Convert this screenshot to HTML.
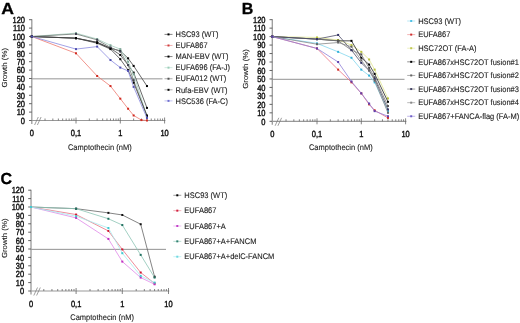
<!DOCTYPE html>
<html><head><meta charset="utf-8"><style>
html,body{margin:0;padding:0;background:#fff;overflow:hidden;}
svg{display:block;filter:blur(0.3px);}
text{text-rendering:geometricPrecision;font-family:"Liberation Sans", sans-serif;font-size:7.5px;fill:#1a1a1a;stroke:#1a1a1a;stroke-width:0.1px;}
.n{stroke-width:0.35px;fill:#111;stroke:#111;}
</style></head><body>
<svg width="520" height="323" viewBox="0 0 520 323">
<rect width="520" height="323" fill="#fff"/>
<line x1="31.8" y1="78.85" x2="162.5" y2="78.85" stroke="#b8b8b8" stroke-width="1.5"/>
<line x1="31.8" y1="19.20" x2="31.8" y2="124.00" stroke="#9a9a9a" stroke-width="1.3"/>
<line x1="29.0" y1="120.50" x2="31.8" y2="120.50" stroke="#555" stroke-width="0.9"/>
<text transform="translate(25.00,123.75) scale(1,1.18)" class="n" text-anchor="end">0</text>
<line x1="29.0" y1="112.10" x2="31.8" y2="112.10" stroke="#555" stroke-width="0.9"/>
<text transform="translate(25.00,115.35) scale(1,1.18)" class="n" text-anchor="end">10</text>
<line x1="29.0" y1="103.70" x2="31.8" y2="103.70" stroke="#555" stroke-width="0.9"/>
<text transform="translate(25.00,106.95) scale(1,1.18)" class="n" text-anchor="end">20</text>
<line x1="29.0" y1="95.30" x2="31.8" y2="95.30" stroke="#555" stroke-width="0.9"/>
<text transform="translate(25.00,98.55) scale(1,1.18)" class="n" text-anchor="end">30</text>
<line x1="29.0" y1="86.90" x2="31.8" y2="86.90" stroke="#555" stroke-width="0.9"/>
<text transform="translate(25.00,90.15) scale(1,1.18)" class="n" text-anchor="end">40</text>
<line x1="29.0" y1="78.50" x2="31.8" y2="78.50" stroke="#555" stroke-width="0.9"/>
<text transform="translate(25.00,81.75) scale(1,1.18)" class="n" text-anchor="end">50</text>
<line x1="29.0" y1="70.10" x2="31.8" y2="70.10" stroke="#555" stroke-width="0.9"/>
<text transform="translate(25.00,73.35) scale(1,1.18)" class="n" text-anchor="end">60</text>
<line x1="29.0" y1="61.70" x2="31.8" y2="61.70" stroke="#555" stroke-width="0.9"/>
<text transform="translate(25.00,64.95) scale(1,1.18)" class="n" text-anchor="end">70</text>
<line x1="29.0" y1="53.30" x2="31.8" y2="53.30" stroke="#555" stroke-width="0.9"/>
<text transform="translate(25.00,56.55) scale(1,1.18)" class="n" text-anchor="end">80</text>
<line x1="29.0" y1="44.90" x2="31.8" y2="44.90" stroke="#555" stroke-width="0.9"/>
<text transform="translate(25.00,48.15) scale(1,1.18)" class="n" text-anchor="end">90</text>
<line x1="29.0" y1="36.50" x2="31.8" y2="36.50" stroke="#555" stroke-width="0.9"/>
<text transform="translate(25.00,39.75) scale(1,1.18)" class="n" text-anchor="end">100</text>
<line x1="29.0" y1="28.10" x2="31.8" y2="28.10" stroke="#555" stroke-width="0.9"/>
<text transform="translate(25.00,31.35) scale(1,1.18)" class="n" text-anchor="end">110</text>
<line x1="29.0" y1="19.70" x2="31.8" y2="19.70" stroke="#555" stroke-width="0.9"/>
<text transform="translate(25.00,22.95) scale(1,1.18)" class="n" text-anchor="end">120</text>
<line x1="31.8" y1="120.5" x2="165.40" y2="120.5" stroke="#999" stroke-width="1.2"/>
<line x1="45.04" y1="118.5" x2="45.04" y2="120.5" stroke="#666" stroke-width="0.8"/>
<line x1="52.84" y1="118.5" x2="52.84" y2="120.5" stroke="#666" stroke-width="0.8"/>
<line x1="58.37" y1="118.5" x2="58.37" y2="120.5" stroke="#666" stroke-width="0.8"/>
<line x1="62.66" y1="118.5" x2="62.66" y2="120.5" stroke="#666" stroke-width="0.8"/>
<line x1="66.17" y1="118.5" x2="66.17" y2="120.5" stroke="#666" stroke-width="0.8"/>
<line x1="69.14" y1="118.5" x2="69.14" y2="120.5" stroke="#666" stroke-width="0.8"/>
<line x1="71.71" y1="118.5" x2="71.71" y2="120.5" stroke="#666" stroke-width="0.8"/>
<line x1="73.97" y1="118.5" x2="73.97" y2="120.5" stroke="#666" stroke-width="0.8"/>
<line x1="89.34" y1="118.5" x2="89.34" y2="120.5" stroke="#666" stroke-width="0.8"/>
<line x1="97.14" y1="118.5" x2="97.14" y2="120.5" stroke="#666" stroke-width="0.8"/>
<line x1="102.67" y1="118.5" x2="102.67" y2="120.5" stroke="#666" stroke-width="0.8"/>
<line x1="106.96" y1="118.5" x2="106.96" y2="120.5" stroke="#666" stroke-width="0.8"/>
<line x1="110.47" y1="118.5" x2="110.47" y2="120.5" stroke="#666" stroke-width="0.8"/>
<line x1="113.44" y1="118.5" x2="113.44" y2="120.5" stroke="#666" stroke-width="0.8"/>
<line x1="116.01" y1="118.5" x2="116.01" y2="120.5" stroke="#666" stroke-width="0.8"/>
<line x1="118.27" y1="118.5" x2="118.27" y2="120.5" stroke="#666" stroke-width="0.8"/>
<line x1="133.64" y1="118.5" x2="133.64" y2="120.5" stroke="#666" stroke-width="0.8"/>
<line x1="141.44" y1="118.5" x2="141.44" y2="120.5" stroke="#666" stroke-width="0.8"/>
<line x1="146.97" y1="118.5" x2="146.97" y2="120.5" stroke="#666" stroke-width="0.8"/>
<line x1="151.26" y1="118.5" x2="151.26" y2="120.5" stroke="#666" stroke-width="0.8"/>
<line x1="154.77" y1="118.5" x2="154.77" y2="120.5" stroke="#666" stroke-width="0.8"/>
<line x1="157.74" y1="118.5" x2="157.74" y2="120.5" stroke="#666" stroke-width="0.8"/>
<line x1="160.31" y1="118.5" x2="160.31" y2="120.5" stroke="#666" stroke-width="0.8"/>
<line x1="162.57" y1="118.5" x2="162.57" y2="120.5" stroke="#666" stroke-width="0.8"/>
<line x1="76.00" y1="117.5" x2="76.00" y2="123.5" stroke="#666" stroke-width="0.8"/>
<line x1="120.30" y1="117.5" x2="120.30" y2="123.5" stroke="#666" stroke-width="0.8"/>
<line x1="164.60" y1="117.5" x2="164.60" y2="123.5" stroke="#666" stroke-width="0.8"/>
<line x1="34.6" y1="125.0" x2="38.3" y2="117.0" stroke="#777" stroke-width="0.7"/>
<line x1="37.4" y1="125.0" x2="41.1" y2="117.0" stroke="#777" stroke-width="0.7"/>
<text transform="translate(31.80,136.00) scale(1,1.18)" class="n" text-anchor="middle">0</text>
<text transform="translate(76.00,136.00) scale(1,1.18)" class="n" text-anchor="middle">0,1</text>
<text transform="translate(120.30,136.00) scale(1,1.18)" class="n" text-anchor="middle">1</text>
<text transform="translate(164.60,136.00) scale(1,1.18)" class="n" text-anchor="middle">10</text>
<text transform="translate(99.80,149.50) scale(1,1.08)" text-anchor="middle">Camptothecin (nM)</text>
<text transform="translate(7.30,67.80) rotate(-90) scale(1.045,0.97)" text-anchor="middle">Growth (%)</text>
<polyline points="31.80,36.50 76.00,38.18 97.14,42.38 110.47,48.26 120.30,50.78 128.10,58.34 133.64,65.90 146.97,86.06" fill="none" stroke="#444" stroke-width="0.8"/>
<rect x="30.80" y="35.50" width="2" height="2" fill="#000"/>
<rect x="75.00" y="37.18" width="2" height="2" fill="#000"/>
<rect x="96.14" y="41.38" width="2" height="2" fill="#000"/>
<rect x="109.47" y="47.26" width="2" height="2" fill="#000"/>
<rect x="119.30" y="49.78" width="2" height="2" fill="#000"/>
<rect x="127.10" y="57.34" width="2" height="2" fill="#000"/>
<rect x="132.64" y="64.90" width="2" height="2" fill="#000"/>
<rect x="145.97" y="85.06" width="2" height="2" fill="#000"/>
<polyline points="31.80,36.50 76.00,53.30 97.14,75.98 110.47,86.06 120.30,98.66 128.10,108.74 133.64,115.46 141.44,120.08 146.97,120.50" fill="none" stroke="#ee7a70" stroke-width="0.8"/>
<rect x="30.80" y="35.50" width="2" height="2" fill="#d02a20"/>
<rect x="75.00" y="52.30" width="2" height="2" fill="#d02a20"/>
<rect x="96.14" y="74.98" width="2" height="2" fill="#d02a20"/>
<rect x="109.47" y="85.06" width="2" height="2" fill="#d02a20"/>
<rect x="119.30" y="97.66" width="2" height="2" fill="#d02a20"/>
<rect x="127.10" y="107.74" width="2" height="2" fill="#d02a20"/>
<rect x="132.64" y="114.46" width="2" height="2" fill="#d02a20"/>
<rect x="140.44" y="119.08" width="2" height="2" fill="#d02a20"/>
<rect x="145.97" y="119.50" width="2" height="2" fill="#d02a20"/>
<polyline points="31.80,36.50 76.00,38.18 97.14,42.38 110.47,48.26 120.30,54.98 128.10,65.06 133.64,72.62 146.97,107.90" fill="none" stroke="#444" stroke-width="0.8"/>
<rect x="30.80" y="35.50" width="2" height="2" fill="#000"/>
<rect x="75.00" y="37.18" width="2" height="2" fill="#000"/>
<rect x="96.14" y="41.38" width="2" height="2" fill="#000"/>
<rect x="109.47" y="47.26" width="2" height="2" fill="#000"/>
<rect x="119.30" y="53.98" width="2" height="2" fill="#000"/>
<rect x="127.10" y="64.06" width="2" height="2" fill="#000"/>
<rect x="132.64" y="71.62" width="2" height="2" fill="#000"/>
<rect x="145.97" y="106.90" width="2" height="2" fill="#000"/>
<polyline points="31.80,36.50 76.00,33.14 97.14,39.02 110.47,45.32 120.30,49.10 128.10,61.70 133.64,74.30 146.97,116.30" fill="none" stroke="#a8cfc0" stroke-width="0.8"/>
<rect x="30.80" y="35.50" width="2" height="2" fill="#7fa898"/>
<rect x="75.00" y="32.14" width="2" height="2" fill="#7fa898"/>
<rect x="96.14" y="38.02" width="2" height="2" fill="#7fa898"/>
<rect x="109.47" y="44.32" width="2" height="2" fill="#7fa898"/>
<rect x="119.30" y="48.10" width="2" height="2" fill="#7fa898"/>
<rect x="127.10" y="60.70" width="2" height="2" fill="#7fa898"/>
<rect x="132.64" y="73.30" width="2" height="2" fill="#7fa898"/>
<rect x="145.97" y="115.30" width="2" height="2" fill="#7fa898"/>
<polyline points="31.80,36.50 76.00,33.98 97.14,39.86 110.47,47.42 120.30,51.62 128.10,65.06 133.64,80.18 146.97,116.30" fill="none" stroke="#6f7a74" stroke-width="0.8"/>
<rect x="30.80" y="35.50" width="2" height="2" fill="#445"/>
<rect x="75.00" y="32.98" width="2" height="2" fill="#445"/>
<rect x="96.14" y="38.86" width="2" height="2" fill="#445"/>
<rect x="109.47" y="46.42" width="2" height="2" fill="#445"/>
<rect x="119.30" y="50.62" width="2" height="2" fill="#445"/>
<rect x="127.10" y="64.06" width="2" height="2" fill="#445"/>
<rect x="132.64" y="79.18" width="2" height="2" fill="#445"/>
<rect x="145.97" y="115.30" width="2" height="2" fill="#445"/>
<polyline points="31.80,36.50 76.00,38.18 97.14,43.22 110.47,49.10 120.30,59.18 128.10,70.10 133.64,82.70 146.97,115.46" fill="none" stroke="#444" stroke-width="0.8"/>
<rect x="30.80" y="35.50" width="2" height="2" fill="#000"/>
<rect x="75.00" y="37.18" width="2" height="2" fill="#000"/>
<rect x="96.14" y="42.22" width="2" height="2" fill="#000"/>
<rect x="109.47" y="48.10" width="2" height="2" fill="#000"/>
<rect x="119.30" y="58.18" width="2" height="2" fill="#000"/>
<rect x="127.10" y="69.10" width="2" height="2" fill="#000"/>
<rect x="132.64" y="81.70" width="2" height="2" fill="#000"/>
<rect x="145.97" y="114.46" width="2" height="2" fill="#000"/>
<polyline points="31.80,36.50 76.00,49.10 97.14,46.58 110.47,60.02 120.30,67.58 128.10,70.94 133.64,86.90 146.97,117.98" fill="none" stroke="#8a8ae0" stroke-width="0.8"/>
<rect x="30.80" y="35.50" width="2" height="2" fill="#5050b0"/>
<rect x="75.00" y="48.10" width="2" height="2" fill="#5050b0"/>
<rect x="96.14" y="45.58" width="2" height="2" fill="#5050b0"/>
<rect x="109.47" y="59.02" width="2" height="2" fill="#5050b0"/>
<rect x="119.30" y="66.58" width="2" height="2" fill="#5050b0"/>
<rect x="127.10" y="69.94" width="2" height="2" fill="#5050b0"/>
<rect x="132.64" y="85.90" width="2" height="2" fill="#5050b0"/>
<rect x="145.97" y="116.98" width="2" height="2" fill="#5050b0"/>
<line x1="164.5" y1="34.40" x2="172.5" y2="34.40" stroke="#666" stroke-width="0.8"/>
<rect x="167.5" y="33.40" width="2" height="2" fill="#000"/>
<text transform="translate(175.5,37.10) scale(1,1.08)">HSC93 (WT)</text>
<line x1="164.5" y1="45.48" x2="172.5" y2="45.48" stroke="#f0a0a0" stroke-width="0.8"/>
<rect x="167.5" y="44.48" width="2" height="2" fill="#d04040"/>
<text transform="translate(175.5,48.18) scale(1,1.08)">EUFA867</text>
<line x1="164.5" y1="56.56" x2="172.5" y2="56.56" stroke="#666" stroke-width="0.8"/>
<rect x="167.5" y="55.56" width="2" height="2" fill="#000"/>
<text transform="translate(175.5,59.26) scale(1,1.08)">MAN-EBV (WT)</text>
<line x1="164.5" y1="67.64" x2="172.5" y2="67.64" stroke="#c4e6d8" stroke-width="0.8"/>
<rect x="167.5" y="66.64" width="2" height="2" fill="#9cccb8"/>
<text transform="translate(175.5,70.34) scale(1,1.08)">EUFA696 (FA-J)</text>
<line x1="164.5" y1="78.72" x2="172.5" y2="78.72" stroke="#999" stroke-width="0.8"/>
<rect x="167.5" y="77.72" width="2" height="2" fill="#555"/>
<text transform="translate(175.5,81.42) scale(1,1.08)">EUFA012 (WT)</text>
<line x1="164.5" y1="89.80" x2="172.5" y2="89.80" stroke="#999" stroke-width="0.8"/>
<rect x="167.5" y="88.80" width="2" height="2" fill="#000"/>
<text transform="translate(175.5,92.50) scale(1,1.08)">Rufa-EBV (WT)</text>
<line x1="164.5" y1="100.88" x2="172.5" y2="100.88" stroke="#b4b4ee" stroke-width="0.8"/>
<rect x="167.5" y="99.88" width="2" height="2" fill="#7070d0"/>
<text transform="translate(175.5,103.58) scale(1,1.08)">HSC536 (FA-C)</text>
<text transform="translate(1.3,14) scale(1.1,1)" style="font-size:16px;font-weight:bold;fill:#000;stroke:#000;stroke-width:0.3px">A</text>
<line x1="272.3" y1="79.30" x2="404.5" y2="79.30" stroke="#8c8c8c" stroke-width="0.95"/>
<line x1="272.3" y1="19.16" x2="272.3" y2="124.80" stroke="#9a9a9a" stroke-width="1.3"/>
<line x1="269.5" y1="121.30" x2="272.3" y2="121.30" stroke="#555" stroke-width="0.9"/>
<text transform="translate(265.50,124.55) scale(1,1.18)" class="n" text-anchor="end">0</text>
<line x1="269.5" y1="112.83" x2="272.3" y2="112.83" stroke="#555" stroke-width="0.9"/>
<text transform="translate(265.50,116.08) scale(1,1.18)" class="n" text-anchor="end">10</text>
<line x1="269.5" y1="104.36" x2="272.3" y2="104.36" stroke="#555" stroke-width="0.9"/>
<text transform="translate(265.50,107.61) scale(1,1.18)" class="n" text-anchor="end">20</text>
<line x1="269.5" y1="95.89" x2="272.3" y2="95.89" stroke="#555" stroke-width="0.9"/>
<text transform="translate(265.50,99.14) scale(1,1.18)" class="n" text-anchor="end">30</text>
<line x1="269.5" y1="87.42" x2="272.3" y2="87.42" stroke="#555" stroke-width="0.9"/>
<text transform="translate(265.50,90.67) scale(1,1.18)" class="n" text-anchor="end">40</text>
<line x1="269.5" y1="78.95" x2="272.3" y2="78.95" stroke="#555" stroke-width="0.9"/>
<text transform="translate(265.50,82.20) scale(1,1.18)" class="n" text-anchor="end">50</text>
<line x1="269.5" y1="70.48" x2="272.3" y2="70.48" stroke="#555" stroke-width="0.9"/>
<text transform="translate(265.50,73.73) scale(1,1.18)" class="n" text-anchor="end">60</text>
<line x1="269.5" y1="62.01" x2="272.3" y2="62.01" stroke="#555" stroke-width="0.9"/>
<text transform="translate(265.50,65.26) scale(1,1.18)" class="n" text-anchor="end">70</text>
<line x1="269.5" y1="53.54" x2="272.3" y2="53.54" stroke="#555" stroke-width="0.9"/>
<text transform="translate(265.50,56.79) scale(1,1.18)" class="n" text-anchor="end">80</text>
<line x1="269.5" y1="45.07" x2="272.3" y2="45.07" stroke="#555" stroke-width="0.9"/>
<text transform="translate(265.50,48.32) scale(1,1.18)" class="n" text-anchor="end">90</text>
<line x1="269.5" y1="36.60" x2="272.3" y2="36.60" stroke="#555" stroke-width="0.9"/>
<text transform="translate(265.50,39.85) scale(1,1.18)" class="n" text-anchor="end">100</text>
<line x1="269.5" y1="28.13" x2="272.3" y2="28.13" stroke="#555" stroke-width="0.9"/>
<text transform="translate(265.50,31.38) scale(1,1.18)" class="n" text-anchor="end">110</text>
<line x1="269.5" y1="19.66" x2="272.3" y2="19.66" stroke="#555" stroke-width="0.9"/>
<text transform="translate(265.50,22.91) scale(1,1.18)" class="n" text-anchor="end">120</text>
<line x1="272.3" y1="121.3" x2="406.40" y2="121.3" stroke="#999" stroke-width="1.2"/>
<line x1="286.04" y1="119.3" x2="286.04" y2="121.3" stroke="#666" stroke-width="0.8"/>
<line x1="293.84" y1="119.3" x2="293.84" y2="121.3" stroke="#666" stroke-width="0.8"/>
<line x1="299.37" y1="119.3" x2="299.37" y2="121.3" stroke="#666" stroke-width="0.8"/>
<line x1="303.66" y1="119.3" x2="303.66" y2="121.3" stroke="#666" stroke-width="0.8"/>
<line x1="307.17" y1="119.3" x2="307.17" y2="121.3" stroke="#666" stroke-width="0.8"/>
<line x1="310.14" y1="119.3" x2="310.14" y2="121.3" stroke="#666" stroke-width="0.8"/>
<line x1="312.71" y1="119.3" x2="312.71" y2="121.3" stroke="#666" stroke-width="0.8"/>
<line x1="314.97" y1="119.3" x2="314.97" y2="121.3" stroke="#666" stroke-width="0.8"/>
<line x1="330.34" y1="119.3" x2="330.34" y2="121.3" stroke="#666" stroke-width="0.8"/>
<line x1="338.14" y1="119.3" x2="338.14" y2="121.3" stroke="#666" stroke-width="0.8"/>
<line x1="343.67" y1="119.3" x2="343.67" y2="121.3" stroke="#666" stroke-width="0.8"/>
<line x1="347.96" y1="119.3" x2="347.96" y2="121.3" stroke="#666" stroke-width="0.8"/>
<line x1="351.47" y1="119.3" x2="351.47" y2="121.3" stroke="#666" stroke-width="0.8"/>
<line x1="354.44" y1="119.3" x2="354.44" y2="121.3" stroke="#666" stroke-width="0.8"/>
<line x1="357.01" y1="119.3" x2="357.01" y2="121.3" stroke="#666" stroke-width="0.8"/>
<line x1="359.27" y1="119.3" x2="359.27" y2="121.3" stroke="#666" stroke-width="0.8"/>
<line x1="374.64" y1="119.3" x2="374.64" y2="121.3" stroke="#666" stroke-width="0.8"/>
<line x1="382.44" y1="119.3" x2="382.44" y2="121.3" stroke="#666" stroke-width="0.8"/>
<line x1="387.97" y1="119.3" x2="387.97" y2="121.3" stroke="#666" stroke-width="0.8"/>
<line x1="392.26" y1="119.3" x2="392.26" y2="121.3" stroke="#666" stroke-width="0.8"/>
<line x1="395.77" y1="119.3" x2="395.77" y2="121.3" stroke="#666" stroke-width="0.8"/>
<line x1="398.74" y1="119.3" x2="398.74" y2="121.3" stroke="#666" stroke-width="0.8"/>
<line x1="401.31" y1="119.3" x2="401.31" y2="121.3" stroke="#666" stroke-width="0.8"/>
<line x1="403.57" y1="119.3" x2="403.57" y2="121.3" stroke="#666" stroke-width="0.8"/>
<line x1="317.00" y1="118.3" x2="317.00" y2="124.3" stroke="#666" stroke-width="0.8"/>
<line x1="361.30" y1="118.3" x2="361.30" y2="124.3" stroke="#666" stroke-width="0.8"/>
<line x1="405.60" y1="118.3" x2="405.60" y2="124.3" stroke="#666" stroke-width="0.8"/>
<line x1="275.1" y1="125.8" x2="278.8" y2="117.8" stroke="#777" stroke-width="0.7"/>
<line x1="277.90000000000003" y1="125.8" x2="281.6" y2="117.8" stroke="#777" stroke-width="0.7"/>
<text transform="translate(272.30,136.80) scale(1,1.18)" class="n" text-anchor="middle">0</text>
<text transform="translate(317.00,136.80) scale(1,1.18)" class="n" text-anchor="middle">0,1</text>
<text transform="translate(361.30,136.80) scale(1,1.18)" class="n" text-anchor="middle">1</text>
<text transform="translate(405.60,136.80) scale(1,1.18)" class="n" text-anchor="middle">10</text>
<text transform="translate(340.80,150.30) scale(1,1.08)" text-anchor="middle">Camptothecin (nM)</text>
<text transform="translate(247.80,68.98) rotate(-90) scale(1.045,0.97)" text-anchor="middle">Growth (%)</text>
<polyline points="272.30,36.60 317.00,43.38 338.14,51.85 351.47,57.77 361.30,69.63 369.10,75.56 374.64,82.34 387.97,111.14" fill="none" stroke="#80d6ee" stroke-width="0.8"/>
<rect x="271.30" y="35.60" width="2" height="2" fill="#30b0d8"/>
<rect x="316.00" y="42.38" width="2" height="2" fill="#30b0d8"/>
<rect x="337.14" y="50.85" width="2" height="2" fill="#30b0d8"/>
<rect x="350.47" y="56.77" width="2" height="2" fill="#30b0d8"/>
<rect x="360.30" y="68.63" width="2" height="2" fill="#30b0d8"/>
<rect x="368.10" y="74.56" width="2" height="2" fill="#30b0d8"/>
<rect x="373.64" y="81.34" width="2" height="2" fill="#30b0d8"/>
<rect x="386.97" y="110.14" width="2" height="2" fill="#30b0d8"/>
<polyline points="272.30,36.60 317.00,48.46 338.14,69.63 351.47,82.34 361.30,93.35 369.10,104.36 374.64,110.29 387.97,117.91" fill="none" stroke="#ee7080" stroke-width="0.8"/>
<rect x="271.30" y="35.60" width="2" height="2" fill="#d02a20"/>
<rect x="316.00" y="47.46" width="2" height="2" fill="#d02a20"/>
<rect x="337.14" y="68.63" width="2" height="2" fill="#d02a20"/>
<rect x="350.47" y="81.34" width="2" height="2" fill="#d02a20"/>
<rect x="360.30" y="92.35" width="2" height="2" fill="#d02a20"/>
<rect x="368.10" y="103.36" width="2" height="2" fill="#d02a20"/>
<rect x="373.64" y="109.29" width="2" height="2" fill="#d02a20"/>
<rect x="386.97" y="116.91" width="2" height="2" fill="#d02a20"/>
<polyline points="272.30,36.60 317.00,37.45 338.14,39.99 351.47,45.07 361.30,51.85 369.10,59.47 374.64,69.63 387.97,98.43" fill="none" stroke="#e0e690" stroke-width="0.8"/>
<rect x="271.30" y="35.60" width="2" height="2" fill="#b8c040"/>
<rect x="316.00" y="36.45" width="2" height="2" fill="#b8c040"/>
<rect x="337.14" y="38.99" width="2" height="2" fill="#b8c040"/>
<rect x="350.47" y="44.07" width="2" height="2" fill="#b8c040"/>
<rect x="360.30" y="50.85" width="2" height="2" fill="#b8c040"/>
<rect x="368.10" y="58.47" width="2" height="2" fill="#b8c040"/>
<rect x="373.64" y="68.63" width="2" height="2" fill="#b8c040"/>
<rect x="386.97" y="97.43" width="2" height="2" fill="#b8c040"/>
<polyline points="272.30,36.60 317.00,39.14 338.14,40.83 351.47,40.83 361.30,57.77 369.10,64.55 374.64,73.87 387.97,101.82" fill="none" stroke="#222" stroke-width="0.8"/>
<rect x="271.30" y="35.60" width="2" height="2" fill="#000"/>
<rect x="316.00" y="38.14" width="2" height="2" fill="#000"/>
<rect x="337.14" y="39.83" width="2" height="2" fill="#000"/>
<rect x="350.47" y="39.83" width="2" height="2" fill="#000"/>
<rect x="360.30" y="56.77" width="2" height="2" fill="#000"/>
<rect x="368.10" y="63.55" width="2" height="2" fill="#000"/>
<rect x="373.64" y="72.87" width="2" height="2" fill="#000"/>
<rect x="386.97" y="100.82" width="2" height="2" fill="#000"/>
<polyline points="272.30,36.60 317.00,39.14 338.14,40.83 351.47,50.15 361.30,54.39 369.10,67.94 374.64,77.26 387.97,106.05" fill="none" stroke="#777" stroke-width="0.8"/>
<rect x="271.30" y="35.60" width="2" height="2" fill="#555"/>
<rect x="316.00" y="38.14" width="2" height="2" fill="#555"/>
<rect x="337.14" y="39.83" width="2" height="2" fill="#555"/>
<rect x="350.47" y="49.15" width="2" height="2" fill="#555"/>
<rect x="360.30" y="53.39" width="2" height="2" fill="#555"/>
<rect x="368.10" y="66.94" width="2" height="2" fill="#555"/>
<rect x="373.64" y="76.26" width="2" height="2" fill="#555"/>
<rect x="386.97" y="105.05" width="2" height="2" fill="#555"/>
<polyline points="272.30,36.60 317.00,39.14 338.14,34.91 351.47,50.15 361.30,62.86 369.10,70.48 374.64,78.95 387.97,109.44" fill="none" stroke="#4a4a66" stroke-width="0.8"/>
<rect x="271.30" y="35.60" width="2" height="2" fill="#336"/>
<rect x="316.00" y="38.14" width="2" height="2" fill="#336"/>
<rect x="337.14" y="33.91" width="2" height="2" fill="#336"/>
<rect x="350.47" y="49.15" width="2" height="2" fill="#336"/>
<rect x="360.30" y="61.86" width="2" height="2" fill="#336"/>
<rect x="368.10" y="69.48" width="2" height="2" fill="#336"/>
<rect x="373.64" y="77.95" width="2" height="2" fill="#336"/>
<rect x="386.97" y="108.44" width="2" height="2" fill="#336"/>
<polyline points="272.30,36.60 317.00,44.22 338.14,42.53 351.47,46.76 361.30,60.32 369.10,70.48 374.64,80.64 387.97,112.83" fill="none" stroke="#888" stroke-width="0.8"/>
<rect x="271.30" y="35.60" width="2" height="2" fill="#666"/>
<rect x="316.00" y="43.22" width="2" height="2" fill="#666"/>
<rect x="337.14" y="41.53" width="2" height="2" fill="#666"/>
<rect x="350.47" y="45.76" width="2" height="2" fill="#666"/>
<rect x="360.30" y="59.32" width="2" height="2" fill="#666"/>
<rect x="368.10" y="69.48" width="2" height="2" fill="#666"/>
<rect x="373.64" y="79.64" width="2" height="2" fill="#666"/>
<rect x="386.97" y="111.83" width="2" height="2" fill="#666"/>
<polyline points="272.30,36.60 317.00,48.46 338.14,62.01 351.47,81.49 361.30,93.35 369.10,103.51 374.64,111.14 387.97,116.22" fill="none" stroke="#9080d8" stroke-width="0.8"/>
<rect x="271.30" y="35.60" width="2" height="2" fill="#6040b0"/>
<rect x="316.00" y="47.46" width="2" height="2" fill="#6040b0"/>
<rect x="337.14" y="61.01" width="2" height="2" fill="#6040b0"/>
<rect x="350.47" y="80.49" width="2" height="2" fill="#6040b0"/>
<rect x="360.30" y="92.35" width="2" height="2" fill="#6040b0"/>
<rect x="368.10" y="102.51" width="2" height="2" fill="#6040b0"/>
<rect x="373.64" y="110.14" width="2" height="2" fill="#6040b0"/>
<rect x="386.97" y="115.22" width="2" height="2" fill="#6040b0"/>
<line x1="407.2" y1="21.00" x2="415.2" y2="21.00" stroke="#a8e2f4" stroke-width="0.8"/>
<rect x="410.2" y="20.00" width="2" height="2" fill="#50c0e4"/>
<text transform="translate(418.2,23.70) scale(1,1.08)">HSC93 (WT)</text>
<line x1="407.2" y1="34.61" x2="415.2" y2="34.61" stroke="#f0a0a0" stroke-width="0.8"/>
<rect x="410.2" y="33.61" width="2" height="2" fill="#d03030"/>
<text transform="translate(418.2,37.31) scale(1,1.08)">EUFA867</text>
<line x1="407.2" y1="48.22" x2="415.2" y2="48.22" stroke="#e8ecb0" stroke-width="0.8"/>
<rect x="410.2" y="47.22" width="2" height="2" fill="#c0c850"/>
<text transform="translate(418.2,50.92) scale(1,1.08)">HSC72OT (FA-A)</text>
<line x1="407.2" y1="61.83" x2="415.2" y2="61.83" stroke="#777" stroke-width="0.8"/>
<rect x="410.2" y="60.83" width="2" height="2" fill="#000"/>
<text transform="translate(418.2,64.53) scale(1,1.08)">EUFA867xHSC72OT fusion#1</text>
<line x1="407.2" y1="75.44" x2="415.2" y2="75.44" stroke="#999" stroke-width="0.8"/>
<rect x="410.2" y="74.44" width="2" height="2" fill="#666"/>
<text transform="translate(418.2,78.14) scale(1,1.08)">EUFA867xHSC72OT fusion#2</text>
<line x1="407.2" y1="89.05" x2="415.2" y2="89.05" stroke="#888" stroke-width="0.8"/>
<rect x="410.2" y="88.05" width="2" height="2" fill="#446"/>
<text transform="translate(418.2,91.75) scale(1,1.08)">EUFA867xHSC72OT fusion#3</text>
<line x1="407.2" y1="102.66" x2="415.2" y2="102.66" stroke="#aaa" stroke-width="0.8"/>
<rect x="410.2" y="101.66" width="2" height="2" fill="#888"/>
<text transform="translate(418.2,105.36) scale(1,1.08)">EUFA867xHSC72OT fusion#4</text>
<line x1="407.2" y1="116.27" x2="415.2" y2="116.27" stroke="#b0a4e4" stroke-width="0.8"/>
<rect x="410.2" y="115.27" width="2" height="2" fill="#7060c8"/>
<text transform="translate(418.2,118.97) scale(1,1.08)">EUFA867+FANCA-flag (FA-M)</text>
<text transform="translate(241.8,13.8) scale(1.0,1)" style="font-size:16px;font-weight:bold;fill:#000;stroke:#000;stroke-width:0.3px">B</text>
<line x1="31" y1="249.35" x2="166" y2="249.35" stroke="#8c8c8c" stroke-width="0.95"/>
<line x1="31" y1="189.70" x2="31" y2="294.50" stroke="#9a9a9a" stroke-width="1.3"/>
<line x1="28.2" y1="291.00" x2="31" y2="291.00" stroke="#555" stroke-width="0.9"/>
<text transform="translate(24.20,294.25) scale(1,1.18)" class="n" text-anchor="end">0</text>
<line x1="28.2" y1="282.60" x2="31" y2="282.60" stroke="#555" stroke-width="0.9"/>
<text transform="translate(24.20,285.85) scale(1,1.18)" class="n" text-anchor="end">10</text>
<line x1="28.2" y1="274.20" x2="31" y2="274.20" stroke="#555" stroke-width="0.9"/>
<text transform="translate(24.20,277.45) scale(1,1.18)" class="n" text-anchor="end">20</text>
<line x1="28.2" y1="265.80" x2="31" y2="265.80" stroke="#555" stroke-width="0.9"/>
<text transform="translate(24.20,269.05) scale(1,1.18)" class="n" text-anchor="end">30</text>
<line x1="28.2" y1="257.40" x2="31" y2="257.40" stroke="#555" stroke-width="0.9"/>
<text transform="translate(24.20,260.65) scale(1,1.18)" class="n" text-anchor="end">40</text>
<line x1="28.2" y1="249.00" x2="31" y2="249.00" stroke="#555" stroke-width="0.9"/>
<text transform="translate(24.20,252.25) scale(1,1.18)" class="n" text-anchor="end">50</text>
<line x1="28.2" y1="240.60" x2="31" y2="240.60" stroke="#555" stroke-width="0.9"/>
<text transform="translate(24.20,243.85) scale(1,1.18)" class="n" text-anchor="end">60</text>
<line x1="28.2" y1="232.20" x2="31" y2="232.20" stroke="#555" stroke-width="0.9"/>
<text transform="translate(24.20,235.45) scale(1,1.18)" class="n" text-anchor="end">70</text>
<line x1="28.2" y1="223.80" x2="31" y2="223.80" stroke="#555" stroke-width="0.9"/>
<text transform="translate(24.20,227.05) scale(1,1.18)" class="n" text-anchor="end">80</text>
<line x1="28.2" y1="215.40" x2="31" y2="215.40" stroke="#555" stroke-width="0.9"/>
<text transform="translate(24.20,218.65) scale(1,1.18)" class="n" text-anchor="end">90</text>
<line x1="28.2" y1="207.00" x2="31" y2="207.00" stroke="#555" stroke-width="0.9"/>
<text transform="translate(24.20,210.25) scale(1,1.18)" class="n" text-anchor="end">100</text>
<line x1="28.2" y1="198.60" x2="31" y2="198.60" stroke="#555" stroke-width="0.9"/>
<text transform="translate(24.20,201.85) scale(1,1.18)" class="n" text-anchor="end">110</text>
<line x1="28.2" y1="190.20" x2="31" y2="190.20" stroke="#555" stroke-width="0.9"/>
<text transform="translate(24.20,193.45) scale(1,1.18)" class="n" text-anchor="end">120</text>
<line x1="31" y1="291" x2="169.30" y2="291" stroke="#999" stroke-width="1.2"/>
<line x1="43.81" y1="289" x2="43.81" y2="291" stroke="#666" stroke-width="0.8"/>
<line x1="51.94" y1="289" x2="51.94" y2="291" stroke="#666" stroke-width="0.8"/>
<line x1="57.72" y1="289" x2="57.72" y2="291" stroke="#666" stroke-width="0.8"/>
<line x1="62.19" y1="289" x2="62.19" y2="291" stroke="#666" stroke-width="0.8"/>
<line x1="65.85" y1="289" x2="65.85" y2="291" stroke="#666" stroke-width="0.8"/>
<line x1="68.94" y1="289" x2="68.94" y2="291" stroke="#666" stroke-width="0.8"/>
<line x1="71.62" y1="289" x2="71.62" y2="291" stroke="#666" stroke-width="0.8"/>
<line x1="73.99" y1="289" x2="73.99" y2="291" stroke="#666" stroke-width="0.8"/>
<line x1="90.01" y1="289" x2="90.01" y2="291" stroke="#666" stroke-width="0.8"/>
<line x1="98.14" y1="289" x2="98.14" y2="291" stroke="#666" stroke-width="0.8"/>
<line x1="103.92" y1="289" x2="103.92" y2="291" stroke="#666" stroke-width="0.8"/>
<line x1="108.39" y1="289" x2="108.39" y2="291" stroke="#666" stroke-width="0.8"/>
<line x1="112.05" y1="289" x2="112.05" y2="291" stroke="#666" stroke-width="0.8"/>
<line x1="115.14" y1="289" x2="115.14" y2="291" stroke="#666" stroke-width="0.8"/>
<line x1="117.82" y1="289" x2="117.82" y2="291" stroke="#666" stroke-width="0.8"/>
<line x1="120.19" y1="289" x2="120.19" y2="291" stroke="#666" stroke-width="0.8"/>
<line x1="136.21" y1="289" x2="136.21" y2="291" stroke="#666" stroke-width="0.8"/>
<line x1="144.34" y1="289" x2="144.34" y2="291" stroke="#666" stroke-width="0.8"/>
<line x1="150.12" y1="289" x2="150.12" y2="291" stroke="#666" stroke-width="0.8"/>
<line x1="154.59" y1="289" x2="154.59" y2="291" stroke="#666" stroke-width="0.8"/>
<line x1="158.25" y1="289" x2="158.25" y2="291" stroke="#666" stroke-width="0.8"/>
<line x1="161.34" y1="289" x2="161.34" y2="291" stroke="#666" stroke-width="0.8"/>
<line x1="164.02" y1="289" x2="164.02" y2="291" stroke="#666" stroke-width="0.8"/>
<line x1="166.39" y1="289" x2="166.39" y2="291" stroke="#666" stroke-width="0.8"/>
<line x1="76.10" y1="288" x2="76.10" y2="294" stroke="#666" stroke-width="0.8"/>
<line x1="122.30" y1="288" x2="122.30" y2="294" stroke="#666" stroke-width="0.8"/>
<line x1="168.50" y1="288" x2="168.50" y2="294" stroke="#666" stroke-width="0.8"/>
<line x1="33.8" y1="295.5" x2="37.5" y2="287.5" stroke="#777" stroke-width="0.7"/>
<line x1="36.6" y1="295.5" x2="40.3" y2="287.5" stroke="#777" stroke-width="0.7"/>
<text transform="translate(31.00,306.50) scale(1,1.18)" class="n" text-anchor="middle">0</text>
<text transform="translate(76.10,306.50) scale(1,1.18)" class="n" text-anchor="middle">0,1</text>
<text transform="translate(122.30,306.50) scale(1,1.18)" class="n" text-anchor="middle">1</text>
<text transform="translate(168.50,306.50) scale(1,1.18)" class="n" text-anchor="middle">10</text>
<text transform="translate(102.10,320.00) scale(1,1.08)" text-anchor="middle">Camptothecin (nM)</text>
<text transform="translate(6.50,238.30) rotate(-90) scale(1.045,0.97)" text-anchor="middle">Growth (%)</text>
<polyline points="31.00,207.00 76.10,208.68 108.39,212.88 122.30,214.98 140.68,224.22 154.59,276.72" fill="none" stroke="#666" stroke-width="0.8"/>
<rect x="30.00" y="206.00" width="2" height="2" fill="#111"/>
<rect x="75.10" y="207.68" width="2" height="2" fill="#111"/>
<rect x="107.39" y="211.88" width="2" height="2" fill="#111"/>
<rect x="121.30" y="213.98" width="2" height="2" fill="#111"/>
<rect x="139.68" y="223.22" width="2" height="2" fill="#111"/>
<rect x="153.59" y="275.72" width="2" height="2" fill="#111"/>
<polyline points="31.00,207.00 76.10,214.56 108.39,230.94 122.30,249.42 140.68,272.52 154.59,283.44" fill="none" stroke="#ea7080" stroke-width="0.8"/>
<rect x="30.00" y="206.00" width="2" height="2" fill="#d01830"/>
<rect x="75.10" y="213.56" width="2" height="2" fill="#d01830"/>
<rect x="107.39" y="229.94" width="2" height="2" fill="#d01830"/>
<rect x="121.30" y="248.42" width="2" height="2" fill="#d01830"/>
<rect x="139.68" y="271.52" width="2" height="2" fill="#d01830"/>
<rect x="153.59" y="282.44" width="2" height="2" fill="#d01830"/>
<polyline points="31.00,207.00 76.10,217.92 108.39,238.92 122.30,261.60 140.68,277.56 154.59,284.28" fill="none" stroke="#e088e8" stroke-width="0.8"/>
<rect x="30.00" y="206.00" width="2" height="2" fill="#c030c0"/>
<rect x="75.10" y="216.92" width="2" height="2" fill="#c030c0"/>
<rect x="107.39" y="237.92" width="2" height="2" fill="#c030c0"/>
<rect x="121.30" y="260.60" width="2" height="2" fill="#c030c0"/>
<rect x="139.68" y="276.56" width="2" height="2" fill="#c030c0"/>
<rect x="153.59" y="283.28" width="2" height="2" fill="#c030c0"/>
<polyline points="31.00,207.00 76.10,208.68 108.39,218.76 122.30,225.06 140.68,254.88 154.59,277.56" fill="none" stroke="#8cc4b4" stroke-width="0.8"/>
<rect x="30.00" y="206.00" width="2" height="2" fill="#207060"/>
<rect x="75.10" y="207.68" width="2" height="2" fill="#207060"/>
<rect x="107.39" y="217.76" width="2" height="2" fill="#207060"/>
<rect x="121.30" y="224.06" width="2" height="2" fill="#207060"/>
<rect x="139.68" y="253.88" width="2" height="2" fill="#207060"/>
<rect x="153.59" y="276.56" width="2" height="2" fill="#207060"/>
<polyline points="31.00,207.00 76.10,216.24 108.39,228.00 122.30,253.20 140.68,275.88 154.59,282.60" fill="none" stroke="#a8ecf0" stroke-width="0.8"/>
<rect x="30.00" y="206.00" width="2" height="2" fill="#40c8d0"/>
<rect x="75.10" y="215.24" width="2" height="2" fill="#40c8d0"/>
<rect x="107.39" y="227.00" width="2" height="2" fill="#40c8d0"/>
<rect x="121.30" y="252.20" width="2" height="2" fill="#40c8d0"/>
<rect x="139.68" y="274.88" width="2" height="2" fill="#40c8d0"/>
<rect x="153.59" y="281.60" width="2" height="2" fill="#40c8d0"/>
<line x1="173.3" y1="195.30" x2="181.3" y2="195.30" stroke="#888" stroke-width="0.8"/>
<rect x="176.3" y="194.30" width="2" height="2" fill="#000"/>
<text transform="translate(184.3,198.00) scale(1,1.08)">HSC93 (WT)</text>
<line x1="173.3" y1="210.65" x2="181.3" y2="210.65" stroke="#f0a0a8" stroke-width="0.8"/>
<rect x="176.3" y="209.65" width="2" height="2" fill="#d02040"/>
<text transform="translate(184.3,213.35) scale(1,1.08)">EUFA867</text>
<line x1="173.3" y1="226.00" x2="181.3" y2="226.00" stroke="#ecb0f0" stroke-width="0.8"/>
<rect x="176.3" y="225.00" width="2" height="2" fill="#c040c8"/>
<text transform="translate(184.3,228.70) scale(1,1.08)">EUFA867+A</text>
<line x1="173.3" y1="241.35" x2="181.3" y2="241.35" stroke="#a8d4c8" stroke-width="0.8"/>
<rect x="176.3" y="240.35" width="2" height="2" fill="#308070"/>
<text transform="translate(184.3,244.05) scale(1,1.08)">EUFA867+A+FANCM</text>
<line x1="173.3" y1="256.70" x2="181.3" y2="256.70" stroke="#b8f0f4" stroke-width="0.8"/>
<rect x="176.3" y="255.70" width="2" height="2" fill="#70d8e0"/>
<text transform="translate(184.3,259.40) scale(1,1.08)">EUFA867+A+delC-FANCM</text>
<text transform="translate(0.5,183.9) scale(1.0,1)" style="font-size:16px;font-weight:bold;fill:#000;stroke:#000;stroke-width:0.3px">C</text>
</svg>
</body></html>
